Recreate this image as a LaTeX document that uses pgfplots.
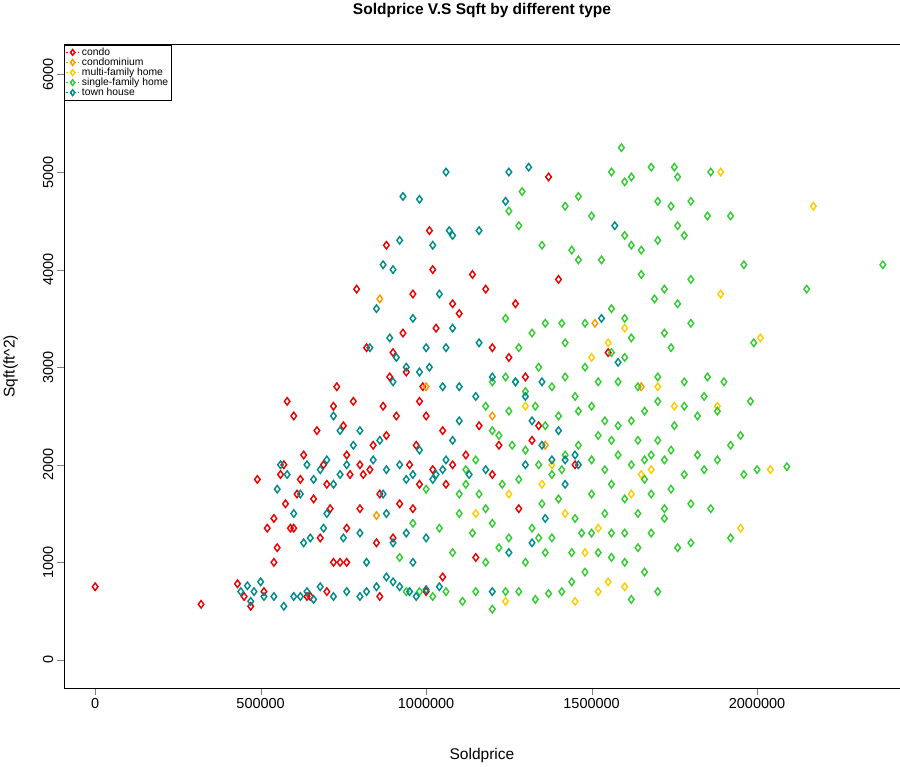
\documentclass[border=0pt]{standalone}
\usepackage{pgfplots}
\pgfplotsset{compat=1.18}
\usepackage{fontspec}
\setmainfont{Liberation Sans}
\definecolor{cRed}{HTML}{EE0000}
\definecolor{cOrange}{HTML}{FF9900}
\definecolor{cGold}{HTML}{FFCC00}
\definecolor{cGreen}{HTML}{33CC33}
\definecolor{cTeal}{HTML}{008B8B}
\begin{document}
\begin{tikzpicture}
\begin{axis}[
scale only axis, width=808pt, height=622pt,
xmin=-93750, xmax=2431250, ymin=-286, ymax=6307,
xtick={0,500000,1000000,1500000,2000000},
xticklabels={0,500000,1000000,1500000,2000000},
ytick={0,1000,2000,3000,4000,5000,6000},
yticklabels={0,1000,2000,3000,4000,5000,6000},
yticklabel style={rotate=90, anchor=south},
scaled ticks=false,
tick label style={font=\fontsize{14}{16}\selectfont},
tick align=outside, major tick length=7pt,
xtick pos=bottom, ytick pos=left,
xlabel={Soldprice}, ylabel={Sqft(ft\textasciicircum 2)},
label style={font=\fontsize{15}{17}\selectfont},
xlabel style={at={(rel axis cs:0.5,-0.105)}, anchor=center},
ylabel style={at={(rel axis cs:-0.064,0.5)}, anchor=center, rotate=0},
title={\textbf{Soldprice V.S Sqft by different type}},
title style={font=\fontsize{15}{17}\selectfont, at={(rel axis cs:0.5,1.043)}, anchor=center},
legend style={at={(rel axis cs:0,1)}, anchor=north west, font=\fontsize{10}{12}\selectfont, draw=black, inner sep=1pt, row sep=-3pt, cells={anchor=west}},
legend cell align=left,
legend image code/.code={\draw[line width=1.2pt, dash pattern=on 2pt off 2pt, mark=none] (0cm,0cm) -- (0.45cm,0cm); \draw[mark size=2.8pt] plot coordinates {(0.225cm,0cm)};},
every axis plot/.append style={only marks, mark=diamond, mark size=3.6pt, line width=1.4pt},
]
\addplot[cRed] coordinates {(0,750)(320000,570)(430000,780)(450000,650)(470000,550)(490000,1850)(510000,700)(520000,1350)(540000,1450)(550000,1150)(560000,1900)(570000,2000)(575000,1600)(580000,2650)(590000,1350)(600000,2500)(610000,1700)(620000,1850)(630000,2100)(640000,650)(660000,1650)(670000,2350)(690000,2000)(700000,1800)(710000,1550)(720000,2600)(730000,2800)(740000,1000)(750000,2400)(760000,2100)(770000,1900)(780000,2650)(790000,3800)(800000,2000)(810000,1900)(820000,3200)(830000,1950)(840000,2200)(850000,1200)(860000,1700)(870000,2600)(880000,4250)(890000,2900)(900000,3150)(910000,2500)(920000,1600)(930000,3350)(940000,2950)(950000,2000)(960000,3750)(970000,2200)(980000,1800)(990000,2800)(1000000,2500)(1010000,4400)(1020000,4000)(1030000,3400)(1050000,2350)(1060000,1800)(1080000,3650)(1100000,3550)(1120000,2100)(1140000,3950)(1160000,2400)(1180000,3800)(1200000,3200)(1220000,2200)(1250000,3100)(1270000,3650)(1300000,2900)(1320000,2250)(1370000,4950)(1400000,3900)(1450000,2000)(1550000,3150)(650000,650)(700000,700)(720000,1000)(860000,650)(1000000,700)(1050000,850)(600000,1350)(680000,1250)(760000,1350)(800000,1550)(900000,1250)(960000,1550)(1020000,1950)(1080000,2000)(1150000,1050)(1200000,1900)(540000,1000)(1280000,1550)(1340000,2400)(760000,1000)(880000,2300)(980000,2650)};
\addlegendentry{condo}
\addplot[cOrange] coordinates {(860000,3700)(1000000,2800)(1510000,3450)(1360000,2200)(850000,1480)(1650000,2800)(1200000,2500)};
\addlegendentry{condominium}
\addplot[cGold] coordinates {(1890000,5000)(2170000,4650)(1890000,3750)(2010000,3300)(1880000,2600)(1950000,1350)(2040000,1950)(1700000,2800)(1650000,1900)(1550000,3250)(1500000,3100)(1600000,3400)(1480000,1100)(1520000,1350)(1450000,600)(1550000,800)(1600000,750)(1250000,1700)(1300000,2600)(1750000,2600)(1350000,1800)(1420000,1500)(1680000,1950)(1150000,1500)(1240000,600)(1520000,700)(1620000,1700)(1380000,2000)};
\addlegendentry{multi-family home}
\addplot[cGreen] coordinates {(1590000,5250)(1560000,5000)(1620000,4950)(1680000,5050)(1750000,5050)(1760000,4950)(1860000,5000)(1600000,4900)(1460000,4750)(1420000,4650)(1500000,4550)(1700000,4700)(1740000,4650)(1800000,4700)(1850000,4550)(1600000,4350)(1620000,4250)(1650000,4200)(1700000,4300)(1760000,4450)(1780000,4350)(1920000,4550)(1960000,4050)(2380000,4050)(2150000,3800)(1440000,4200)(1460000,4100)(1530000,4100)(1350000,4250)(1290000,4800)(1250000,4600)(1280000,4450)(1650000,3950)(1720000,3800)(1800000,3900)(1760000,3650)(1690000,3700)(1560000,3600)(1600000,3500)(1480000,3450)(1410000,3450)(1360000,3450)(1420000,3250)(1560000,3150)(1600000,3100)(1620000,3300)(1720000,3350)(1740000,3200)(1800000,3450)(1990000,3250)(1980000,2650)(1840000,2700)(1820000,2500)(1780000,2600)(1700000,2650)(1660000,2550)(1620000,2450)(1580000,2400)(1540000,2450)(1500000,2600)(1450000,2700)(1400000,2500)(1360000,2400)(1330000,2600)(1300000,2750)(1270000,2850)(1240000,2900)(1200000,2850)(1180000,2600)(1220000,2300)(1260000,2200)(1300000,2150)(1340000,2000)(1380000,1900)(1420000,2100)(1460000,2200)(1500000,2050)(1540000,1950)(1580000,2100)(1620000,2000)(1660000,2050)(1700000,2250)(1740000,2150)(1780000,1900)(1820000,2100)(1880000,2050)(1920000,2200)(1960000,1900)(2000000,1950)(2090000,1980)(1920000,1250)(1860000,1550)(1800000,1200)(1760000,1150)(1720000,1450)(1700000,700)(1680000,1300)(1640000,1150)(1620000,620)(1600000,1000)(1560000,1300)(1540000,1500)(1500000,1700)(1470000,1300)(1440000,1100)(1410000,700)(1380000,1250)(1350000,1600)(1320000,1350)(1300000,1000)(1280000,700)(1250000,1250)(1230000,1800)(1200000,1400)(1180000,1000)(1160000,1700)(1140000,1300)(1120000,1800)(1100000,1500)(1080000,1100)(1060000,700)(1040000,1350)(1020000,650)(1000000,1750)(980000,700)(960000,1400)(940000,700)(920000,1050)(1110000,600)(1150000,700)(1200000,520)(1240000,700)(1330000,620)(1370000,680)(1440000,800)(1480000,900)(1520000,1100)(1560000,1800)(1600000,1650)(1640000,1500)(1660000,1850)(1680000,1700)(1740000,1750)(1850000,2900)(1780000,2850)(1700000,2900)(1640000,2800)(1580000,2850)(1520000,2850)(1480000,3000)(1420000,2900)(1380000,2800)(1340000,3000)(1320000,3350)(1280000,3200)(1240000,3500)(1200000,2350)(1120000,1950)(1100000,1700)(1150000,2050)(1250000,2550)(1280000,1850)(1400000,1650)(1450000,1450)(1360000,1100)(1410000,1950)(1460000,2550)(1520000,2300)(1560000,2250)(1640000,2250)(1680000,2100)(1720000,2050)(1750000,2400)(1800000,1600)(1880000,2550)(1900000,2850)(1950000,2300)(1840000,1950)(1560000,1050)(1600000,1300)(1660000,900)(1720000,1550)(1500000,1300)(1340000,1250)(1220000,1150)(1180000,1550)};
\addlegendentry{single-family home}
\addplot[cTeal] coordinates {(1060000,5000)(1250000,5000)(1310000,5050)(930000,4750)(980000,4720)(1240000,4700)(1070000,4400)(1080000,4350)(1160000,4400)(920000,4300)(870000,4050)(1020000,4250)(900000,4000)(1040000,3750)(1080000,3400)(1060000,3200)(1000000,3200)(960000,3500)(890000,3300)(910000,3100)(830000,3200)(850000,3600)(900000,2850)(940000,3000)(980000,2950)(1010000,3000)(1050000,2800)(1100000,2800)(1150000,2700)(1200000,2900)(1270000,2850)(1300000,2700)(1350000,2850)(1320000,2450)(1400000,2350)(1350000,2200)(1300000,2000)(1420000,2050)(1460000,2000)(1380000,2050)(1530000,3500)(1570000,4450)(1580000,3050)(1100000,2450)(1080000,2250)(1060000,2050)(1050000,1950)(1020000,1850)(980000,2150)(960000,1900)(940000,1850)(920000,2000)(880000,1950)(860000,2250)(840000,2050)(800000,2350)(780000,2200)(760000,2000)(740000,1900)(720000,1800)(700000,2050)(680000,1950)(660000,1850)(640000,2000)(620000,1700)(600000,1500)(580000,1900)(560000,2000)(550000,1750)(720000,2500)(740000,2350)(700000,1500)(690000,1350)(650000,1250)(630000,1200)(620000,650)(640000,700)(660000,620)(600000,650)(570000,550)(540000,650)(510000,650)(480000,700)(460000,760)(440000,700)(470000,600)(500000,800)(680000,750)(720000,650)(760000,700)(800000,650)(820000,700)(850000,750)(880000,850)(900000,800)(920000,750)(950000,700)(970000,650)(1000000,720)(1040000,750)(870000,1700)(880000,1500)(900000,1200)(940000,1300)(960000,1000)(1000000,1250)(1030000,1900)(1130000,1900)(1180000,1950)(1200000,700)(1320000,1200)(1360000,1450)(1420000,1800)(750000,1250)(800000,1300)(820000,1000)(1250000,1100)(1450000,2100)(1160000,3250)};
\addlegendentry{town house}
\path (rel axis cs:-0.0743,-0.1125) rectangle (rel axis cs:1.0396,1.0932);
\end{axis}
\end{tikzpicture}
\end{document}
